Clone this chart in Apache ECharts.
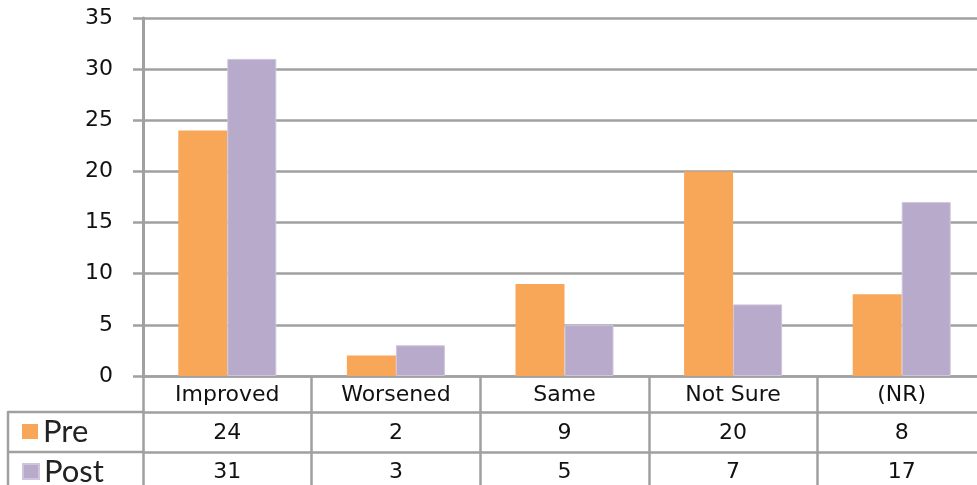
<!DOCTYPE html>
<html>
<head>
<meta charset="utf-8">
<script src="https://cdn.jsdelivr.net/npm/echarts@6/dist/echarts.min.js"></script>
<style>
html,body{margin:0;padding:0;background:#fff;}
#chart{width:977px;height:485px;}
</style>
</head>
<body>
<div id="chart"></div>
<script>
var categories = ['Improved', 'Worsened', 'Same', 'Not Sure', '(NR)'];
var seriesNames = ['Pre', 'Post'];
var preValues = [24, 2, 9, 20, 8];
var postValues = [31, 3, 5, 7, 17];
var yTicks = [0, 5, 10, 15, 20, 25, 30, 35];

var gray = '#a0a0a0';
var labelFont = 'DejaVu Sans';
var chart = echarts.init(document.getElementById('chart'));

function tableAxis(data, offset, tickLen, margin) {
  return {
    type: 'category',
    position: 'bottom',
    offset: offset,
    data: data,
    boundaryGap: true,
    axisLine: {show: true, lineStyle: {color: gray, width: 2.5}},
    axisTick: {show: true, alignWithLabel: false, interval: 0, length: tickLen, lineStyle: {color: gray, width: 2.5}},
    axisLabel: {interval: 0, margin: margin, fontSize: 22, fontFamily: labelFont, color: '#111'},
    splitLine: {show: false}
  };
}

function legendRow(name, top) {
  return {
    data: [name],
    orient: 'horizontal',
    left: 17,
    top: top,
    itemWidth: 16,
    itemHeight: 15,
    icon: 'rect',
    selectedMode: false,
    textStyle: {fontSize: 31, fontFamily: 'Lato', color: '#222'}
  };
}

chart.setOption({
  animation: false,
  backgroundColor: '#fff',
  grid: {left: 143, width: 843, top: 18, height: 358, outerBoundsMode: 'none', containLabel: false},
  legend: [legendRow(seriesNames[0], 411), legendRow(seriesNames[1], 451)],
  xAxis: [
    tableAxis(categories, 0, 36, 8),
    tableAxis(preValues.map(String), 36, 40, 10),
    tableAxis(postValues.map(String), 76, 40, 9)
  ],
  yAxis: {
    type: 'value',
    min: yTicks[0],
    max: yTicks[yTicks.length - 1],
    interval: 5,
    axisLine: {show: true, lineStyle: {color: gray, width: 3}},
    axisTick: {show: true, length: 10, lineStyle: {color: gray, width: 2.5}},
    axisLabel: {margin: 30, fontSize: 22, fontFamily: labelFont, color: '#111'},
    splitLine: {show: true, lineStyle: {color: gray, width: 2.5}}
  },
  graphic: [
    {type: 'line', shape: {x1: 8, y1: 412, x2: 143, y2: 412}, style: {stroke: gray, lineWidth: 2.5}},
    {type: 'line', shape: {x1: 8, y1: 452, x2: 143, y2: 452}, style: {stroke: gray, lineWidth: 2.5}},
    {type: 'line', shape: {x1: 8, y1: 411, x2: 8, y2: 485}, style: {stroke: gray, lineWidth: 2.5}}
  ],
  series: [
    {
      name: seriesNames[0], type: 'bar', xAxisIndex: 0, data: preValues,
      barWidth: 49, barGap: '0%',
      itemStyle: {color: '#f8a658'}
    },
    {
      name: seriesNames[1], type: 'bar', xAxisIndex: 0, data: postValues,
      barWidth: 49, barGap: '0%',
      itemStyle: {color: '#b8aaca', borderColor: '#cfc4db', borderWidth: 1}
    }
  ]
});
</script>
</body>
</html>
